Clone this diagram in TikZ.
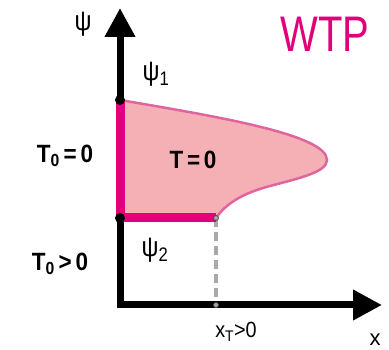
\documentclass[tikz,border=0pt]{standalone}
\usepackage{fontspec}
\setmainfont{Liberation Sans}
\usetikzlibrary{arrows.meta}
\definecolor{mag}{HTML}{E2007A}
\definecolor{pinkfill}{HTML}{F4B0B4}
\definecolor{edgepink}{HTML}{E0649E}
\definecolor{dashgray}{HTML}{A8A8A8}
\tikzset{
  axis/.style={line width=7pt, black, line join=miter},
  magline/.style={line width=9pt, mag},
  edge/.style={line width=2.5pt, edgepink},
  bigdot/.style={circle, fill=black, inner sep=0pt, minimum size=10pt},
  smalldot/.style={circle, fill=dashgray, draw=black!70, line width=0.8pt, inner sep=0pt, minimum size=5pt},
  lbl/.style={inner sep=0pt, font=\fontsize{22}{24}\selectfont},
  psilbl/.style={inner sep=0pt, font=\fontsize{28}{30}\selectfont},
  blbl/.style={inner sep=0pt, font=\fontsize{25}{28}\selectfont\bfseries},
}
\begin{document}
\begin{tikzpicture}[x=1pt,y=-1pt]
\useasboundingbox (0,0) rectangle (389,350);
\coordinate (O) at (120,305);
\coordinate (ytip) at (120,8);
\coordinate (xtip) at (382,305);
\coordinate (p1) at (120,100);
\coordinate (p2) at (120,218);
\coordinate (q) at (216,218);
\coordinate (qa) at (216,305);
\coordinate (tip) at (327,160);
% region
\fill[pinkfill] (p1) .. controls (220,117) and (327,135) .. (tip)
  .. controls (327,172) and (300,178) .. (270,186)
  .. controls (240,194) and (225,205) .. (q) -- (p2) -- cycle;
\draw[edge] (p1) .. controls (220,117) and (327,135) .. (tip)
  .. controls (327,172) and (300,178) .. (270,186)
  .. controls (240,194) and (225,205) .. (q);
% dashed
\draw[dashgray, line width=4.5pt, dash pattern=on 9pt off 5pt] (q) -- (qa);
% axes
\draw[axis, {Triangle[length=29pt,width=29pt]}-{Triangle[length=29pt,width=29pt]}] (ytip) -- (O) -- (xtip);
% magenta boundaries
\draw[magline] (p1) -- (p2);
\draw[magline] (p2) -- (q);
\node[bigdot] (d1) at (p1) {};
\node[bigdot] (d2) at (p2) {};
\node[smalldot] (d3) at (q) {};
\node[smalldot] (d4) at (qa) {};
% labels
\node[psilbl] (psi) at (83,24) {\scalebox{0.85}[1]{ψ}};
\node[psilbl] (psi1) at (156,74) {\scalebox{0.85}[1]{ψ\textsubscript{1}}};
\node[psilbl] (psi2) at (155,250) {\scalebox{0.85}[1]{ψ\textsubscript{2}}};
\node[blbl] (t00) at (65,156) {\scalebox{0.9}[1]{T\textsubscript{0}\,=\,0}};
\node[blbl] (t0g) at (60,264) {\scalebox{0.9}[1]{T\textsubscript{0}\,>\,0}};
\node[blbl] (t0) at (193,160) {\scalebox{0.9}[1]{T\,=\,0}};
\node[inner sep=0pt, text=mag, font=\fontsize{50}{52}\selectfont] (wtp) at (325,34) {\scalebox{0.8}[1]{WTP}};
\node[lbl] (xt) at (236,332) {\scalebox{0.9}[1]{x\textsubscript{T}>0}};
\node[lbl] (xl) at (375,340) {x};
\end{tikzpicture}
\end{document}
